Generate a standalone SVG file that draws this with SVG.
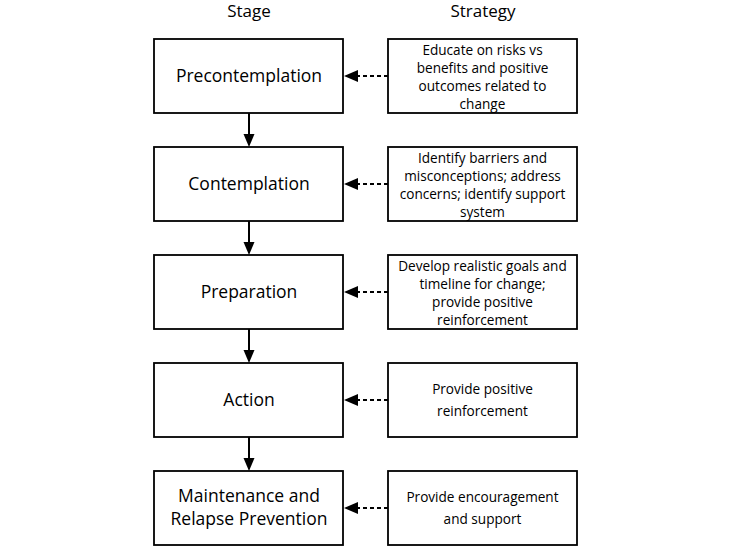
<svg xmlns="http://www.w3.org/2000/svg" width="733" height="552" viewBox="0 0 733 552">
<defs>
<style>
.box{fill:#fff;stroke:#000;stroke-width:1.8}
.st{font-family:"Open Sans","Liberation Sans",sans-serif;font-size:17.5px;fill:#000;text-anchor:middle}
.sg{font-family:"Open Sans","Liberation Sans",sans-serif;font-size:13.6px;fill:#000;text-anchor:middle}
.hd{font-family:"Open Sans","Liberation Sans",sans-serif;font-size:17px;fill:#000;text-anchor:middle}
.solid{stroke:#000;stroke-width:2;fill:none}
.dash{stroke:#000;stroke-width:2;fill:none;stroke-dasharray:4 3}
.head{fill:#000}
</style>
</defs>
<rect width="733" height="552" fill="#fff"/>
<g id="headers">
<text class="hd" x="249" y="17">Stage</text>
<text class="hd" x="483" y="17">Strategy</text>
</g>
<g id="connectors">
<line class="solid" x1="249" y1="113" x2="249" y2="135"/><polygon class="head" points="243.5,134 254.5,134 249,147"/>
<line class="solid" x1="249" y1="221" x2="249" y2="243"/><polygon class="head" points="243.5,242 254.5,242 249,255"/>
<line class="solid" x1="249" y1="329" x2="249" y2="351"/><polygon class="head" points="243.5,350 254.5,350 249,363"/>
<line class="solid" x1="249" y1="437" x2="249" y2="459"/><polygon class="head" points="243.5,458 254.5,458 249,471"/>
<line class="dash" x1="388" y1="76" x2="357" y2="76"/><polygon class="head" points="358,70 358,82 344,76"/>
<line class="dash" x1="388" y1="184" x2="357" y2="184"/><polygon class="head" points="358,178 358,190 344,184"/>
<line class="dash" x1="388" y1="292" x2="357" y2="292"/><polygon class="head" points="358,286 358,298 344,292"/>
<line class="dash" x1="388" y1="400" x2="357" y2="400"/><polygon class="head" points="358,394 358,406 344,400"/>
<line class="dash" x1="388" y1="508" x2="357" y2="508"/><polygon class="head" points="358,502 358,514 344,508"/>
</g>
<g id="stage-precontemplation">
<rect class="box" x="154" y="39" width="189" height="74"/>
<text class="st" x="249" y="82">Precontemplation</text>
</g>
<g id="stage-contemplation">
<rect class="box" x="154" y="147" width="189" height="74"/>
<text class="st" x="249" y="190">Contemplation</text>
</g>
<g id="stage-preparation">
<rect class="box" x="154" y="255" width="189" height="74"/>
<text class="st" x="249" y="298">Preparation</text>
</g>
<g id="stage-action">
<rect class="box" x="154" y="363" width="189" height="74"/>
<text class="st" x="249" y="406">Action</text>
</g>
<g id="stage-maintenance">
<rect class="box" x="154" y="471" width="189" height="74"/>
<text class="st" x="249" y="502">Maintenance and</text>
<text class="st" x="249" y="525">Relapse Prevention</text>
</g>
<g id="strategy-precontemplation">
<rect class="box" x="388" y="39" width="189" height="74"/>
<text class="sg" x="482.5" y="55">Educate on risks vs</text>
<text class="sg" x="482.5" y="73">benefits and positive</text>
<text class="sg" x="482.5" y="91">outcomes related to</text>
<text class="sg" x="482.5" y="109">change</text>
</g>
<g id="strategy-contemplation">
<rect class="box" x="388" y="147" width="189" height="74"/>
<text class="sg" x="482.5" y="163">Identify barriers and</text>
<text class="sg" x="482.5" y="181">misconceptions; address</text>
<text class="sg" x="482.5" y="199">concerns; identify support</text>
<text class="sg" x="482.5" y="217">system</text>
</g>
<g id="strategy-preparation">
<rect class="box" x="388" y="255" width="189" height="74"/>
<text class="sg" x="482.5" y="271">Develop realistic goals and</text>
<text class="sg" x="482.5" y="289">timeline for change;</text>
<text class="sg" x="482.5" y="307">provide positive</text>
<text class="sg" x="482.5" y="325">reinforcement</text>
</g>
<g id="strategy-action">
<rect class="box" x="388" y="363" width="189" height="74"/>
<text class="sg" x="482.5" y="394">Provide positive</text>
<text class="sg" x="482.5" y="416">reinforcement</text>
</g>
<g id="strategy-maintenance">
<rect class="box" x="388" y="471" width="189" height="74"/>
<text class="sg" x="482.5" y="502">Provide encouragement</text>
<text class="sg" x="482.5" y="524">and support</text>
</g>
</svg>
